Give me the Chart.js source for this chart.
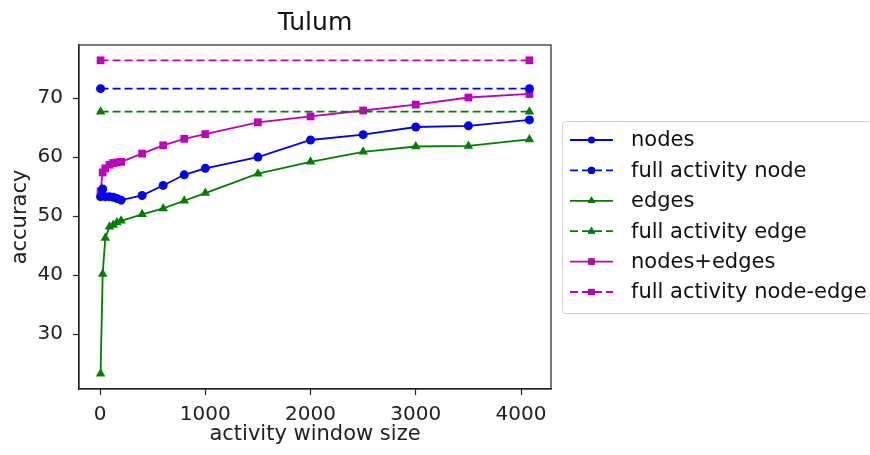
<!DOCTYPE html>
<html>
<head>
<meta charset="utf-8">
<script src="https://cdn.jsdelivr.net/npm/chart.js@4"></script>
<style>
  html, body { margin: 0; padding: 0; background: #fff; }
  #wrap { width: 870px; height: 455px; }
</style>
</head>
<body>
<div id="wrap"><canvas id="chart" width="870" height="455"></canvas></div>
<script>
// window sizes on the x axis
const windowSizes = [5, 25, 50, 90, 125, 160, 200, 400, 600, 800, 1000, 1500, 2000, 2500, 3000, 3500, 4080];
const fullRange = [5, 4080];

// accuracy values
const nodesAcc = [53.3, 54.6, 53.3, 53.3, 53.2, 53.0, 52.7, 53.5, 55.2, 57.0, 58.1, 60.0, 62.9, 63.8, 65.1, 65.3, 66.3];
const edgesAcc = [23.3, 40.2, 46.3, 48.2, 48.5, 48.9, 49.2, 50.3, 51.3, 52.6, 53.9, 57.2, 59.2, 60.9, 61.8, 61.9, 63.0];
const bothAcc = [54.2, 57.4, 58.1, 58.7, 59.0, 59.1, 59.2, 60.6, 62.0, 63.1, 63.9, 65.9, 66.9, 67.9, 68.9, 70.1, 70.7];
const fullNode = [71.6, 71.6];
const fullEdge = [67.7, 67.7];
const fullBoth = [76.4, 76.4];

const xTicks = [0, 1000, 2000, 3000, 4000];
const yTicks = [30, 40, 50, 60, 70];

const FONT = 'DejaVu Sans';
const BLUE = '#0000ff', GREEN = '#008000', MAGENTA = '#bf00bf';

const toPts = (xs, ys) => xs.map((x, i) => ({ x: x, y: ys[i] }));

function series(label, xs, ys, color, style, radius, dashed) {
    return {
        label: label,
        data: toPts(xs, ys),
        showLine: true,
        borderColor: color,
        backgroundColor: color,
        borderWidth: 1.8,
        borderDash: dashed ? [8, 4] : [],
        pointStyle: style,
        pointRadius: radius,
        pointBorderWidth: 0,
        pointBackgroundColor: color,
        tension: 0
    };
}

// frame, title and the matplotlib-like legend
const extras = {
    id: 'extras',
    afterDraw(chart) {
        const { ctx, chartArea: a } = chart;
        ctx.save();
        ctx.strokeStyle = '#222';
        ctx.lineWidth = 1.2;
        ctx.strokeRect(a.left, a.top, a.right - a.left, a.bottom - a.top);

        ctx.fillStyle = '#111';
        ctx.font = '25px "' + FONT + '"';
        ctx.textAlign = 'center';
        ctx.textBaseline = 'middle';
        ctx.fillText('Tulum', (a.left + a.right) / 2, 23);

        // legend box
        const bx = 562.5, by = 121.5, bw = 310, bh = 192;
        ctx.strokeStyle = '#d0d0d0';
        ctx.lineWidth = 1;
        ctx.beginPath();
        ctx.roundRect(bx, by, bw, bh, 3);
        ctx.fillStyle = '#fff';
        ctx.fill();
        ctx.stroke();

        ctx.font = '21px "' + FONT + '"';
        ctx.textAlign = 'left';
        chart.data.datasets.forEach((ds, i) => {
            const y = 140 + i * 30.4;
            ctx.strokeStyle = ds.borderColor;
            ctx.lineWidth = ds.borderWidth;
            ctx.setLineDash(ds.borderDash);
            ctx.beginPath();
            ctx.moveTo(570, y);
            ctx.lineTo(613, y);
            ctx.stroke();
            ctx.setLineDash([]);
            Chart.helpers.drawPoint(ctx, {
                pointStyle: ds.pointStyle,
                radius: ds.pointRadius * 0.8,
                borderWidth: 0
            }, 591.5, y);
            ctx.fillStyle = ds.backgroundColor;
            ctx.fill();
            ctx.fillStyle = '#111';
            ctx.fillText(ds.label, 631, y + 1);
        });
        ctx.restore();
    }
};

new Chart(document.getElementById('chart'), {
    type: 'scatter',
    data: {
        datasets: [
            series('nodes', windowSizes, nodesAcc, BLUE, 'circle', 4.5, false),
            series('full activity node', fullRange, fullNode, BLUE, 'circle', 4.5, true),
            series('edges', windowSizes, edgesAcc, GREEN, 'triangle', 5.5, false),
            series('full activity edge', fullRange, fullEdge, GREEN, 'triangle', 5.5, true),
            series('nodes+edges', windowSizes, bothAcc, MAGENTA, 'rect', 5.5, false),
            series('full activity node-edge', fullRange, fullBoth, MAGENTA, 'rect', 5.5, true)
        ]
    },
    options: {
        responsive: false,
        animation: false,
        layout: { padding: { left: 0, top: 45, right: 319, bottom: 0 } },
        plugins: {
            legend: { display: false },
            tooltip: { enabled: false }
        },
        scales: {
            x: {
                type: 'linear',
                min: -200,
                max: 4285,
                afterFit: s => { s.height = 66; },
                afterBuildTicks: s => { s.ticks = xTicks.map(v => ({ value: v })); },
                grid: { drawOnChartArea: false, tickLength: 6, tickColor: '#222', tickWidth: 1.2 },
                border: { color: '#222', width: 1.2 },
                ticks: { color: '#222', padding: 8, maxRotation: 0, font: { family: FONT, size: 20 }, callback: v => String(v) },
                title: { display: true, text: 'activity window size', color: '#222', font: { family: FONT, size: 21 }, padding: { top: 0, bottom: 8 } }
            },
            y: {
                type: 'linear',
                min: 20.7,
                max: 79.0,
                afterFit: s => { s.width = 79; },
                afterBuildTicks: s => { s.ticks = yTicks.map(v => ({ value: v })); },
                grid: { drawOnChartArea: false, tickLength: 6, tickColor: '#222', tickWidth: 1.2 },
                border: { color: '#222', width: 1.2 },
                ticks: { color: '#222', padding: 10, font: { family: FONT, size: 20 }, callback: v => String(v) },
                title: { display: true, text: 'accuracy', color: '#222', font: { family: FONT, size: 21 }, padding: { top: 8, bottom: 0 } }
            }
        }
    },
    plugins: [extras]
});
</script>
</body>
</html>
